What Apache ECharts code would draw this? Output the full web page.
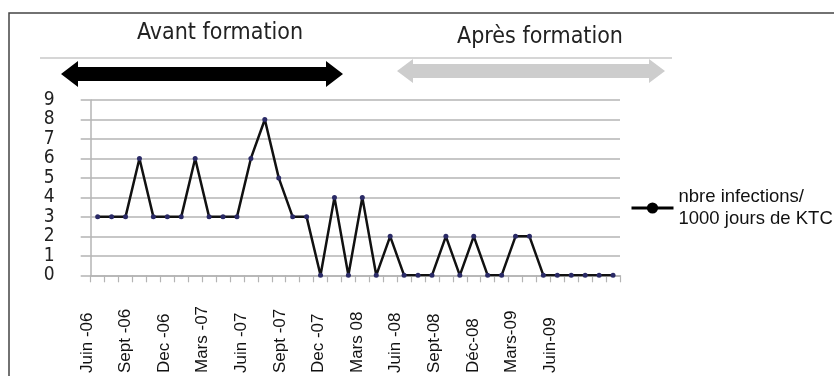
<!DOCTYPE html>
<html><head><meta charset="utf-8">
<script src="https://cdn.jsdelivr.net/npm/echarts@6/dist/echarts.min.js"></script>
<style>html,body{margin:0;padding:0;background:#fff}#c{width:834px;height:376px}</style>
</head><body><div id="c"></div>
<script>
// 38 monthly points, Juin-06 .. Juil-09
const months = ["Juin-06","Juil-06","Août-06","Sept-06","Oct-06","Nov-06","Dec-06","Jan-07","Fév-07","Mars-07","Avr-07","Mai-07","Juin-07","Juil-07","Août-07","Sept-07","Oct-07","Nov-07","Dec-07","Jan-08","Fév-08","Mars-08","Avr-08","Mai-08","Juin-08","Juil-08","Août-08","Sept-08","Oct-08","Nov-08","Déc-08","Jan-09","Fév-09","Mars-09","Avr-09","Mai-09","Juin-09","Juil-09"];
const infections = [3,3,3,6,3,3,3,6,3,3,3,6,8,5,3,3,0,4,0,4,0,2,0,0,0,2,0,2,0,0,2,2,0,0,0,0,0,0];
const tickLabels = ["Juin -06","Sept -06","Dec -06","Mars -07","Juin -07","Sept -07","Dec -07","Mars 08","Juin -08","Sept-08","Déc-08","Mars-09","Juin-09"];
const yTicks = [0,1,2,3,4,5,6,7,8,9];
const seriesName = "nbre infections/\n1000 jours de KTC";
const periodTitles = ["Avant formation","Après formation"];

const chart = echarts.init(document.getElementById('c'), null, {renderer:'canvas'});
const narrow = '"Liberation Sans Narrow","DejaVu Sans Condensed","Arial Narrow",sans-serif';
const gridColor = '#b4b4b4';
function arrow(x1,x2,cy,hh,sh,hl,color){
  return {type:'polygon', shape:{points:[[x1,cy],[x1+hl,cy-hh],[x1+hl,cy-sh],[x2-hl,cy-sh],[x2-hl,cy-hh],[x2,cy],[x2-hl,cy+hh],[x2-hl,cy+sh],[x1+hl,cy+sh],[x1+hl,cy+hh]]}, style:{fill:color}};
}
chart.setOption({
  animation:false,
  grid:[
    {left:90.7, right:214, top:100, bottom:100.7},
    {left:87, right:284, top:100, bottom:100.7}
  ],
  xAxis:[
    {type:'category', gridIndex:0, data:months, boundaryGap:true,
     axisLine:{lineStyle:{color:gridColor,width:1.5}},
     axisTick:{show:true, length:7, interval:0, lineStyle:{color:gridColor,width:1.2}},
     axisLabel:{show:false}},
    {type:'category', gridIndex:1, data:tickLabels, boundaryGap:false,
     axisLine:{show:false}, axisTick:{show:false},
     axisLabel:{interval:0, rotate:90, align:'left', margin:98, fontSize:17,
       fontFamily:'"Liberation Sans",Arial,sans-serif', color:'#111'}}
  ],
  yAxis:[
    {type:'value', gridIndex:0, min:yTicks[0], max:yTicks[yTicks.length-1], interval:1,
     axisLine:{show:true, lineStyle:{color:gridColor,width:1.5}},
     axisTick:{show:true, length:10, lineStyle:{color:gridColor,width:1.5}},
     splitLine:{lineStyle:{color:gridColor,width:1.5}},
     axisLabel:{margin:36, align:'right', fontSize:19, lineHeight:17, fontFamily:narrow, color:'#222',
       showMinLabel:true, showMaxLabel:true, hideOverlap:false}},
    {type:'value', gridIndex:1, min:0, max:9, show:false}
  ],
  legend:{left:630, top:186, padding:0, orient:'vertical', itemWidth:42, itemHeight:14,
    textStyle:{fontSize:18.5, lineHeight:22, color:'#111', fontFamily:'"Liberation Sans",Arial,sans-serif'},
    data:[{name:seriesName, itemStyle:{color:'#000'}, lineStyle:{color:'#000', width:3}}]},
  series:[{
    name:seriesName, type:'line', xAxisIndex:0, yAxisIndex:0, data:infections,
    symbol:'circle', symbolSize:5, showSymbol:true,
    lineStyle:{color:'#111', width:2.5},
    itemStyle:{color:'#2a2a66', borderWidth:0}
  }],
  graphic:[
    {type:'rect', shape:{x:9, y:13, width:840, height:380}, style:{fill:'none', stroke:'#444', lineWidth:1.5}},
    {type:'line', shape:{x1:40, y1:58, x2:672, y2:58}, style:{stroke:'#c8c8c8', lineWidth:1.5}},
    arrow(61,343,74,13,7,17,'#000'),
    arrow(397,665,71,12,7,16,'#cdcdcd'),
    {type:'text', x:220, y:33, style:{text:periodTitles[0], font:'23px '+narrow, fill:'#222', align:'center', verticalAlign:'middle'}},
    {type:'text', x:540, y:37, style:{text:periodTitles[1], font:'23px '+narrow, fill:'#222', align:'center', verticalAlign:'middle'}}
  ]
});
</script></body></html>
